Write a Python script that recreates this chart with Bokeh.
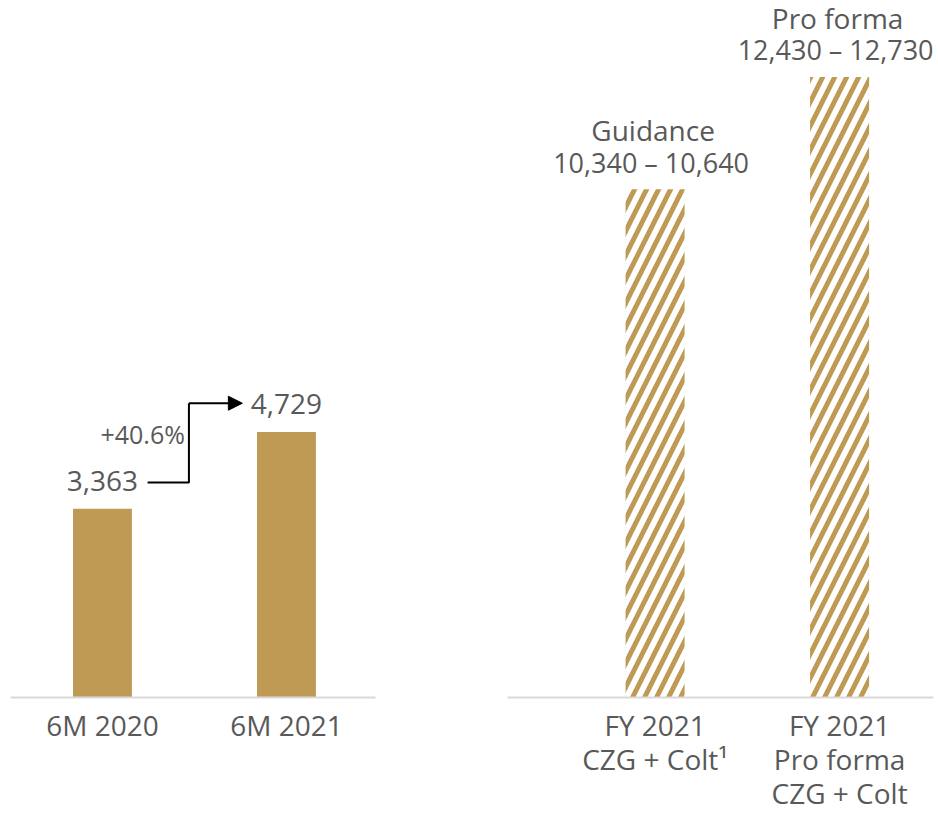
from bokeh.plotting import figure
from bokeh.layouts import row
from bokeh.models import Range1d, FixedTicker, Arrow, NormalHead
from bokeh.embed import file_html
from bokeh.resources import INLINE
from bokeh.core.properties import value

# ---- data ----
h1_labels = ["6M 2020", "6M 2021"]
h1_values = [3363, 4729]

fy_labels = ["FY 2021\nCZG + Colt\u00b9", "FY 2021\nPro forma\nCZG + Colt"]
fy_titles = ["Guidance", "Pro forma"]
fy_low = [10340, 12430]
fy_high = [10640, 12730]
fy_bar_est = [10400, 12700]   # drawn bar heights

GOLD = "#BE9A55"
GREY = "#595959"
FONT = "Open Sans"
FS = "28px"

def fmt(v):
    return f"{v:,}"

def base_fig(width, y_end, x_start, x_end, bl, br):
    p = figure(width=width, height=814, output_backend="svg", toolbar_location=None,
               x_range=Range1d(x_start, x_end), y_range=Range1d(0, y_end),
               y_axis_location=None, min_border_left=bl, min_border_right=br,
               min_border_top=0, min_border_bottom=110)
    p.outline_line_color = None
    p.grid.visible = False
    p.background_fill_color = "white"
    p.border_fill_color = "white"
    ax = p.xaxis[0]
    ax.ticker = FixedTicker(ticks=[0.5, 1.5])
    ax.axis_line_color = "#d9d9d9"
    ax.axis_line_width = 2
    ax.major_tick_line_color = None
    ax.minor_tick_line_color = None
    ax.major_tick_out = 0
    ax.major_tick_in = 0
    ax.major_label_text_font = FONT
    ax.major_label_text_font_size = FS
    ax.major_label_text_color = GREY
    ax.major_label_text_line_height = 0.9
    ax.major_label_standoff = 8
    return p

# ---- left panel ----
yL = 12415
left = base_fig(470, yL, 0, 1.984, 10, 95)
left.xaxis[0].major_label_overrides = {0.5: h1_labels[0], 1.5: h1_labels[1]}
xs = [0.5, 1.5]
left.vbar(x=xs, top=h1_values, width=0.32, fill_color=GOLD, line_color=None)
left.text(x=xs, y=h1_values, text=[fmt(v) for v in h1_values], y_offset=-28,
          text_align="center", text_baseline="middle", text_font=value(FONT),
          text_font_size=FS, text_color=GREY)

def px_y(py, yend=yL):
    return (694 - py) / 694 * yend

unit = 182.5
def px_x(px, left0=10):
    return (px - left0) / unit

y_low = px_y(480)
y_top = px_y(401)
x_vert = px_x(187)
left.line(x=[px_x(146), x_vert, x_vert], y=[y_low, y_low, y_top],
          line_color="black", line_width=2)
left.add_layout(Arrow(end=NormalHead(size=14, fill_color="black", line_color="black"),
                      x_start=x_vert, y_start=y_top, x_end=px_x(240), y_end=y_top,
                      line_color="black", line_width=2))
growth = (h1_values[1] / h1_values[0] - 1) * 100
left.text(x=[px_x(183)], y=[px_y(432)], text=[f"+{growth:.1f}%"],
          text_align="right", text_baseline="middle", text_font=value(FONT),
          text_font_size="25px", text_color=GREY)

# ---- right panel ----
yR = 14265
right = base_fig(468, yR, -0.3, 2.009, 37, 5)
right.xaxis[0].major_label_overrides = {0.5: fy_labels[0], 1.5: fy_labels[1]}
right.vbar(x=xs, top=fy_bar_est, width=0.32, fill_color="white", line_color=None,
           hatch_pattern="/", hatch_color=GOLD, hatch_scale=24, hatch_weight=5)
ranges = [f"{fmt(a)} \u2013 {fmt(b)}" for a, b in zip(fy_low, fy_high)]
right.text(x=xs, y=fy_bar_est, text=ranges, y_offset=-27, x_offset=-4,
           text_align="center", text_baseline="middle", text_font=value(FONT),
           text_font_size="27px", text_color=GREY)
right.text(x=xs, y=fy_bar_est, text=fy_titles, y_offset=-59, x_offset=-2,
           text_align="center", text_baseline="middle", text_font=value(FONT),
           text_font_size=FS, text_color=GREY)

layout = row(left, right)
open("out.html", "w").write(file_html(layout, INLINE))
